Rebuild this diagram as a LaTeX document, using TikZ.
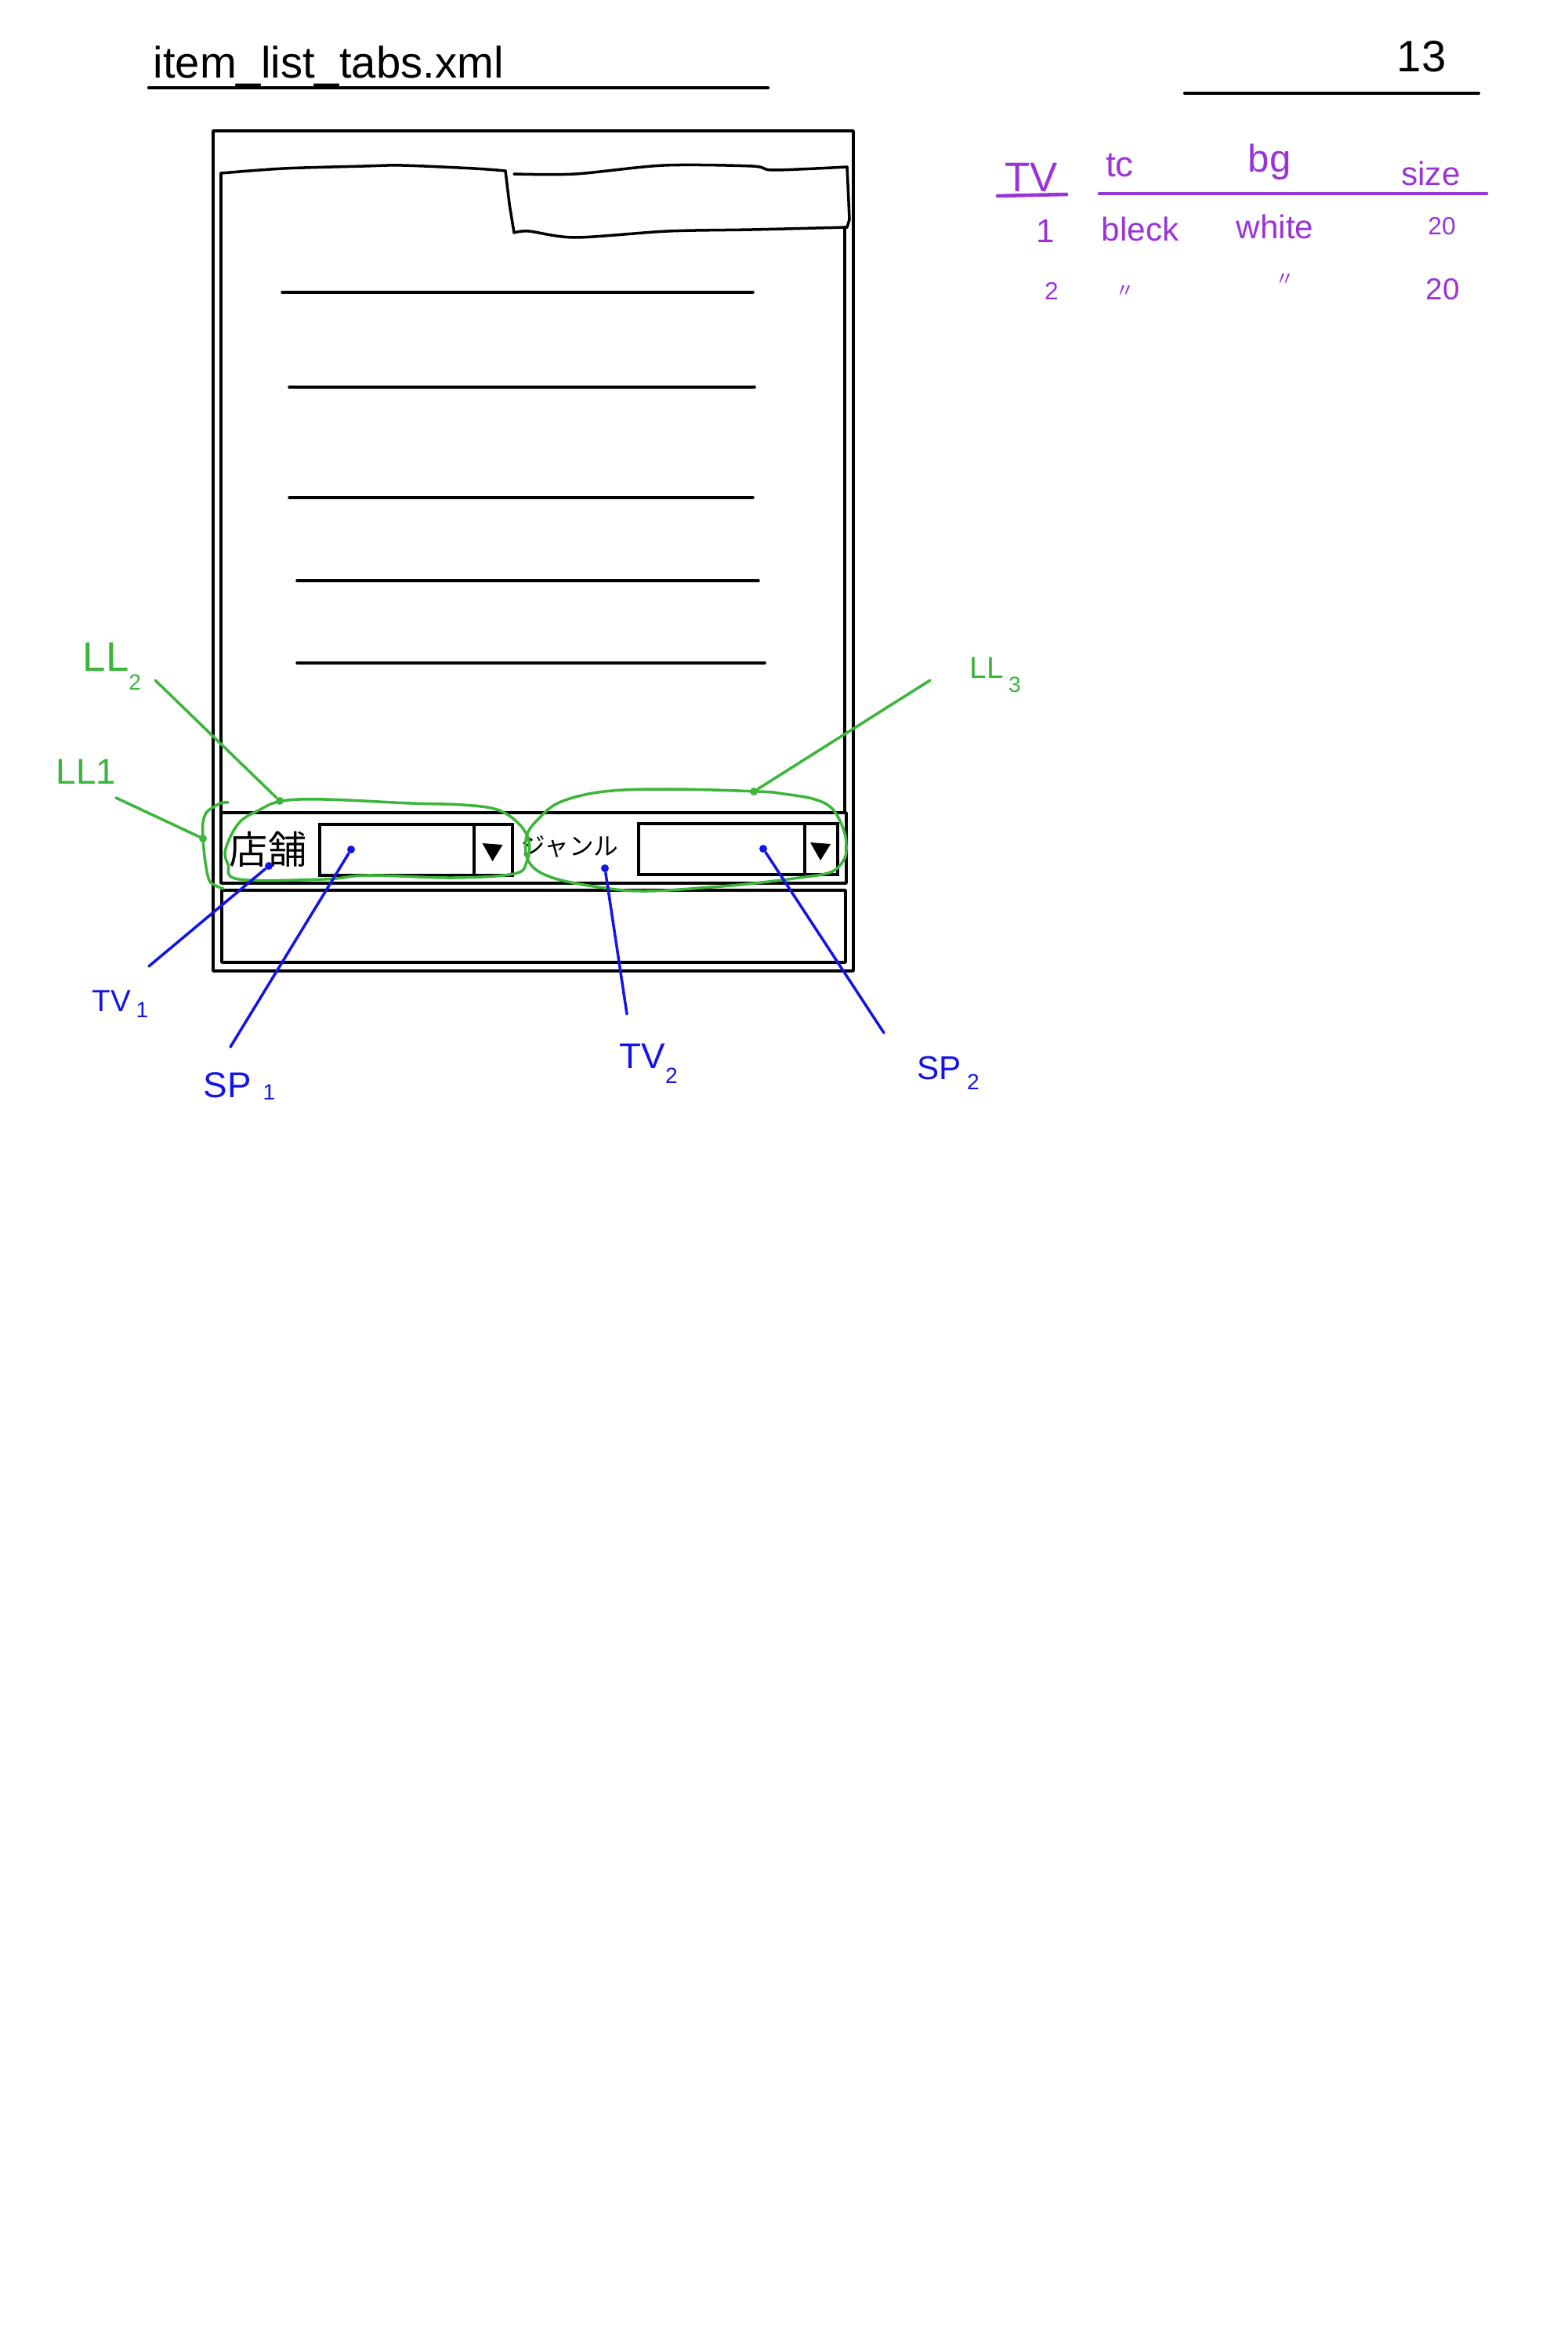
\documentclass[tikz,border=0pt]{standalone}
\usepackage{fontspec}
\setmainfont{Liberation Sans}
\newfontfamily\jpfont{Noto Sans CJK JP}
\usepackage{tikz}
\definecolor{llgreen}{HTML}{3BB53A}
\definecolor{tvblue}{HTML}{1414E8}
\definecolor{notepurple}{HTML}{9A33D8}
\newcommand{\lowsub}[2]{\raisebox{-#1}{\footnotesize #2}}
\newcommand{\spinbox}[5]{%
  \begin{scope}[shift={(#2, #3)}]
    \node[draw, line width=1pt, anchor=north west, inner sep=0pt,
      minimum width=#4cm, minimum height=0.65cm] (#1) at (0,0) {};
    \draw[line width=1pt] (#5, 0) -- (#5, -0.65);
    \fill ({(#4+#5)/2-0.13}, -0.26) -- ({(#4+#5)/2+0.13}, -0.28)
      -- ({(#4+#5)/2}, -0.49) -- cycle;
  \end{scope}}

\begin{document}
\begin{tikzpicture}[x=1cm, y=1cm,
  pen/.style={line width=1pt, line cap=round, line join=round},
  llpen/.style={draw=llgreen, line width=1pt, line cap=round, line join=round},
  tvpen/.style={draw=tvblue, line width=1pt, line cap=round},
  lldot/.style={circle, fill=llgreen, inner sep=0pt, minimum size=0.1cm},
  tvdot/.style={circle, fill=tvblue, inner sep=0pt, minimum size=0.1cm},
  lltext/.style={text=llgreen, inner sep=0pt, anchor=base west},
  tvtext/.style={text=tvblue, inner sep=0pt, anchor=base west},
  notetext/.style={text=notepurple, inner sep=0pt, anchor=base}]

\useasboundingbox (0,0) rectangle (20,-30);
\fill[white] (0,0) rectangle (20,-30);

% heading
\node[anchor=base west, inner sep=0pt, font=\fontsize{16}{18}\selectfont]
  (fname) at (1.95,-1.00) {item\_list\_tabs.xml};
\draw[pen, line width=1.2pt] (1.90,-1.12) -- (9.80,-1.12);
\node[anchor=base, inner sep=0pt, font=\fontsize{16}{18}\selectfont]
  (pageno) at (18.14,-0.92) {13};
\draw[pen, line width=1.2pt] (15.12,-1.19) -- (18.87,-1.19);

% screen
\draw[pen] (2.72,-1.67) rectangle (10.89,-12.39);
\draw[pen] (2.82,-10.37) -- (2.82,-2.21);
\draw[pen] plot[smooth, tension=0.5] coordinates {(2.82,-2.21) (3.62,-2.15)
  (4.65,-2.12) (5.13,-2.11) (6.05,-2.15) (6.45,-2.18)};
\draw[pen] (6.45,-2.18) -- (6.50,-2.60) -- (6.56,-2.97);
\draw[pen] plot[smooth, tension=0.5] coordinates {(6.56,-2.22) (7.34,-2.22)
  (8.47,-2.11) (9.60,-2.12) (9.87,-2.17) (10.81,-2.13)};
\draw[pen] (10.81,-2.13) -- (10.84,-2.80) -- (10.81,-2.90);
\draw[pen] plot[smooth, tension=0.5] coordinates {(10.81,-2.90) (9.60,-2.93)
  (8.52,-2.95) (7.34,-3.03) (6.75,-2.95) (6.56,-2.97)};
\draw[pen] (10.78,-2.90) -- (10.78,-10.37);

\foreach \y/\a/\b in {3.73/3.60/9.61, 4.94/3.69/9.63, 6.35/3.69/9.61,
  7.41/3.79/9.68, 8.46/3.79/9.76}
  \draw[pen] (\a,-\y) -- (\b,-\y);

\draw[pen] (2.82,-10.37) rectangle (10.80,-11.27);
\draw[pen] (2.83,-11.36) rectangle (10.79,-12.28);

\node[inner sep=0pt, font=\jpfont\fontsize{14}{16}\selectfont]
  (tv1) at (3.42,-10.84) {店舗};
\spinbox{sp1box}{4.06}{-10.50}{2.46}{1.99}
\node[inner sep=0pt, font=\jpfont\fontsize{9}{11}\selectfont]
  (tv2) at (7.27,-10.80) {ジャンル};
\spinbox{sp2box}{8.13}{-10.49}{2.54}{2.14}

% layouts
\draw[llpen] plot[smooth cycle, tension=0.6] coordinates {(3.60,-10.22)
  (4.14,-10.20) (5.24,-10.25) (5.90,-10.27) (6.34,-10.33) (6.61,-10.50)
  (6.75,-10.73) (6.72,-11.00) (6.56,-11.15) (5.79,-11.20) (4.69,-11.17)
  (4.14,-11.22) (3.05,-11.22) (2.91,-11.03) (2.88,-10.83) (3.05,-10.50)
  (3.32,-10.33)};
\draw[llpen] plot[smooth cycle, tension=0.6] coordinates {(9.68,-10.10)
  (8.53,-10.07) (7.71,-10.10) (7.16,-10.23) (6.89,-10.43) (6.72,-10.67)
  (6.75,-11.00) (7.05,-11.20) (7.71,-11.33) (8.26,-11.37) (9.08,-11.32)
  (9.63,-11.27) (10.20,-11.20) (10.60,-11.13) (10.77,-10.97) (10.80,-10.80)
  (10.77,-10.60) (10.63,-10.33) (10.40,-10.20) (10.00,-10.13)};
\draw[llpen] plot[smooth, tension=0.5] coordinates {(2.91,-10.24)
  (2.81,-10.25) (2.64,-10.36) (2.59,-10.50) (2.59,-10.70) (2.62,-11.00)
  (2.68,-11.25) (2.85,-11.34)};

\node[lldot] (ll1dot) at (2.59,-10.70) {};
\node[lldot] (ll2dot) at (3.57,-10.22) {};
\node[lldot] (ll3dot) at (9.62,-10.10) {};

\node[lltext, font=\fontsize{13}{15}\selectfont] (ll1) at (0.71,-10.00) {LL1};
\node[lltext, font=\fontsize{15}{17}\selectfont] (ll2) at (1.05,-8.56)
  {LL\lowsub{0.24cm}{2}};
\node[lltext, font=\fontsize{11}{13}\selectfont] (ll3) at (12.37,-8.65)
  {LL\,\lowsub{0.18cm}{3}};

\coordinate (ll1end) at (1.48,-10.18);
\coordinate (ll2end) at (1.98,-8.68);
\coordinate (ll3end) at (11.87,-8.68);
\draw[llpen] (ll1end) -- (ll1dot);
\draw[llpen] (ll2end) -- (ll2dot);
\draw[llpen] (ll3end) -- (ll3dot);

% views
\node[tvdot] (tv1dot) at (3.43,-11.05) {};
\node[tvdot] (sp1dot) at (4.48,-10.84) {};
\node[tvdot] (tv2dot) at (7.72,-11.08) {};
\node[tvdot] (sp2dot) at (9.74,-10.83) {};

\node[tvtext, font=\fontsize{11}{13}\selectfont] (tv1lab) at (1.17,-12.90)
  {TV\,\lowsub{0.08cm}{1}};
\node[tvtext, font=\fontsize{13}{15}\selectfont] (sp1lab) at (2.59,-14.00)
  {SP\hspace{0.15cm}\lowsub{0.03cm}{1}};
\node[tvtext, font=\fontsize{13}{15}\selectfont] (tv2lab) at (7.90,-13.63)
  {TV\lowsub{0.19cm}{2}};
\node[tvtext, font=\fontsize{12}{14}\selectfont] (sp2lab) at (11.70,-13.77)
  {SP\,\lowsub{0.13cm}{2}};

\coordinate (tv1end) at (1.90,-12.33);
\coordinate (sp1end) at (2.94,-13.36);
\coordinate (tv2end) at (8.00,-12.94);
\coordinate (sp2end) at (11.28,-13.18);
\draw[tvpen] (tv1end) -- (tv1dot);
\draw[tvpen] (sp1end) -- (sp1dot);
\draw[tvpen] (tv2end) -- (tv2dot);
\draw[tvpen] (sp2end) -- (sp2dot);

% style table
\node[notetext, font=\fontsize{15}{17}\selectfont] (thtv) at (13.16,-2.45) {TV};
\draw[notepurple, line width=1.3pt, line cap=round] (12.73,-2.50) -- (13.61,-2.48);
\node[notetext, font=\fontsize{13}{15}\selectfont] (thtc) at (14.29,-2.26) {tc};
\node[notetext, font=\fontsize{14}{16}\selectfont] (thbg) at (16.20,-2.20) {bg};
\node[notetext, font=\fontsize{12}{14}\selectfont] (thsize) at (18.26,-2.37) {size};
\draw[notepurple, line width=1.3pt, line cap=round] (14.03,-2.47) -- (18.97,-2.47);

\node[notetext, font=\fontsize{12}{14}\selectfont] (r1tv) at (13.34,-3.10) {1};
\node[notetext, font=\fontsize{12}{14}\selectfont] (r1tc) at (14.55,-3.08) {bleck};
\node[notetext, font=\fontsize{12}{14}\selectfont] (r1bg) at (16.27,-3.05) {white};
\node[notetext, font=\fontsize{9}{11}\selectfont] (r1size) at (18.40,-3.00) {20};

\node[notetext, font=\fontsize{9}{11}\selectfont] (r2tv) at (13.42,-3.83) {2};
\node[notetext, font=\jpfont\fontsize{7}{9}\selectfont] (r2tc) at (14.36,-3.80) {〃};
\node[notetext, font=\jpfont\fontsize{7}{9}\selectfont] (r2bg) at (16.40,-3.65) {〃};
\node[notetext, font=\fontsize{11}{13}\selectfont] (r2size) at (18.41,-3.83) {20};

\end{tikzpicture}
\end{document}
